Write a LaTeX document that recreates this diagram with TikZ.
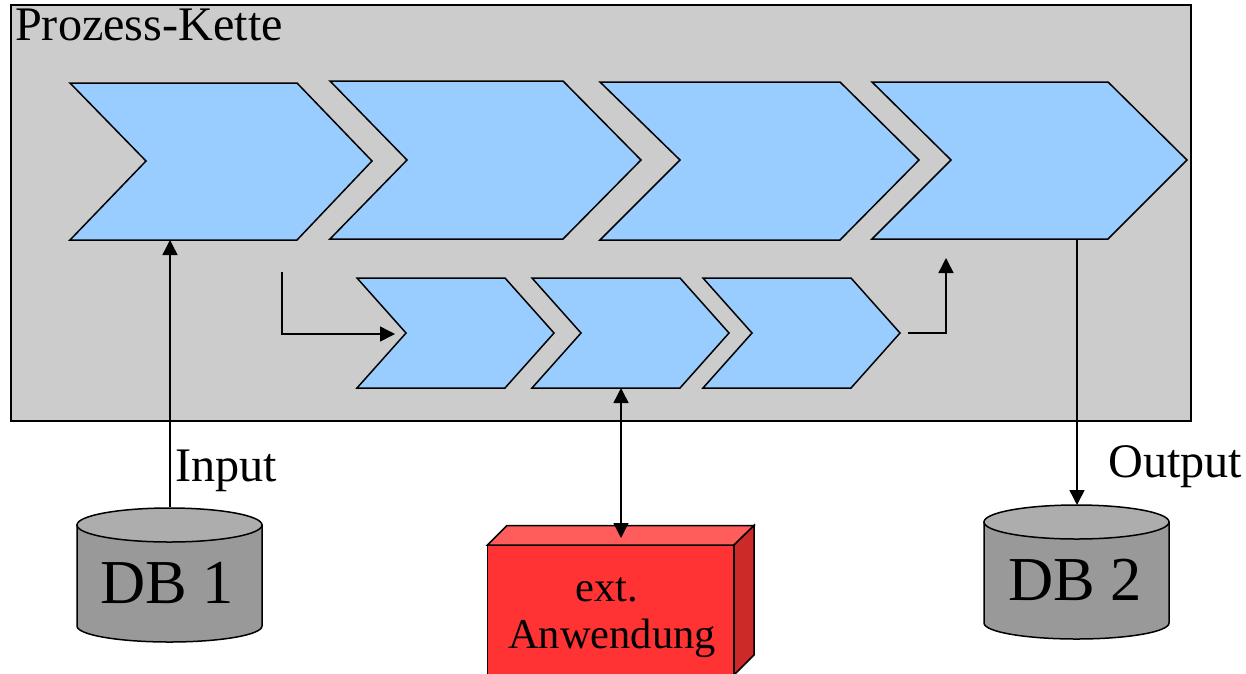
\documentclass[tikz,border=0pt]{standalone}
\usepackage{fontspec}
\setmainfont{Liberation Serif}
\usetikzlibrary{arrows.meta}
\definecolor{panelgray}{HTML}{CCCCCC}
\definecolor{chevblue}{HTML}{99CCFF}
\definecolor{dbbody}{HTML}{999999}
\definecolor{dbtop}{HTML}{ADADAD}
\definecolor{redfront}{HTML}{FF3333}
\definecolor{redtop}{HTML}{FF5C5C}
\definecolor{redside}{HTML}{CC2929}
\tikzset{
  outline/.style={draw=black,line width=1.5pt,line join=miter},
  chevron/.style={outline,fill=chevblue},
  dbshape/.style={outline,fill=dbbody},
  dblid/.style={outline,fill=dbtop},
  connector/.style={draw=black,line width=1.5pt,line join=miter},
  tipped/.style={connector,-{Triangle[length=15pt,width=15pt]}},
  bothtipped/.style={connector,{Triangle[length=15pt,width=15pt]}-{Triangle[length=15pt,width=15pt]}},
  biglabel/.style={font=\fontsize{48.2}{50}\selectfont,inner sep=0pt,anchor=base west},
  dblabel/.style={font=\fontsize{62.5}{64}\selectfont,inner sep=0pt,anchor=base},
  extlabel/.style={font=\fontsize{42.5}{47}\selectfont,inner sep=0pt,align=center}
}
\begin{document}
\begin{tikzpicture}[x=1pt,y=-1pt]
\useasboundingbox (0,0) rectangle (1246,673);
\clip (0,0) rectangle (1246,673);
% panel
\draw[outline,fill=panelgray] (11,5) rectangle (1191,421);
\node[biglabel] (title) at (15,40) {Prozess-Kette};
% large chevrons
\draw[chevron] (70,83) -- (297,83) -- (372,161) -- (297,240) -- (70,240) -- (146,161) -- cycle;
\draw[chevron] (330,81) -- (563,81) -- (641,160) -- (563,239) -- (330,239) -- (407,160) -- cycle;
\draw[chevron] (600,82) -- (840,82) -- (919,160) -- (840,240) -- (600,240) -- (680,160) -- cycle;
\draw[chevron] (872,82) -- (1108,82) -- (1187,160) -- (1108,239) -- (872,239) -- (951,160) -- cycle;
% small chevrons
\draw[chevron] (357,278) -- (505,278) -- (554,333) -- (505,388) -- (357,388) -- (406,333) -- cycle;
\draw[chevron] (532,278) -- (680,278) -- (729,333) -- (680,388) -- (532,388) -- (581,333) -- cycle;
\draw[chevron] (703,278) -- (851,278) -- (900,333) -- (851,388) -- (703,388) -- (752,333) -- cycle;
% DB 1
\draw[dbshape] (77,525) -- (77,626) arc[start angle=180,end angle=0,x radius=92.5,y radius=16] -- (262,525) -- cycle;
\draw[dblid] (169.5,525) ellipse[x radius=92.5,y radius=17];
\node[dblabel] (db1) at (167,603) {DB 1};
% DB 2
\draw[dbshape] (984,522) -- (984,623) arc[start angle=180,end angle=0,x radius=92.5,y radius=16] -- (1169,522) -- cycle;
\draw[dblid] (1076.5,522) ellipse[x radius=92.5,y radius=17];
\node[dblabel] (db2) at (1075,600) {DB 2};
% external application
\draw[outline,fill=redfront] (487.5,545) rectangle (734,690);
\draw[outline,fill=redtop] (487.5,545) -- (507,525.5) -- (754,525.5) -- (734,545) -- cycle;
\draw[outline,fill=redside] (734,545) -- (754,525.5) -- (754,655) -- (734,675) -- cycle;
\node[extlabel] (ext) at (612,618) {ext.\kern10.5pt\\Anwendung};
% labels
\node[biglabel] (input) at (175,481) {Input};
\node[biglabel] (output) at (1108,477) {Output};
% connector anchors
\coordinate (dbonetop) at (170,507);
\coordinate (chevoneb) at (170,240);
\coordinate (chevfourb) at (1077,239);
\coordinate (dbtwotop) at (1077,505);
\coordinate (subin) at (282,272);
\coordinate (subintip) at (395,334);
\coordinate (subout) at (908,333);
\coordinate (subouttip) at (946,258);
\coordinate (smalltwob) at (621,388);
\coordinate (extpoint) at (621,538);
% connectors
\draw[tipped] (dbonetop) -- (chevoneb);
\draw[tipped] (chevfourb) -- (dbtwotop);
\draw[tipped] (subin) |- (subintip);
\draw[tipped] (subout) -| (subouttip);
\draw[bothtipped] (smalltwob) -- (extpoint);
\end{tikzpicture}
\end{document}
